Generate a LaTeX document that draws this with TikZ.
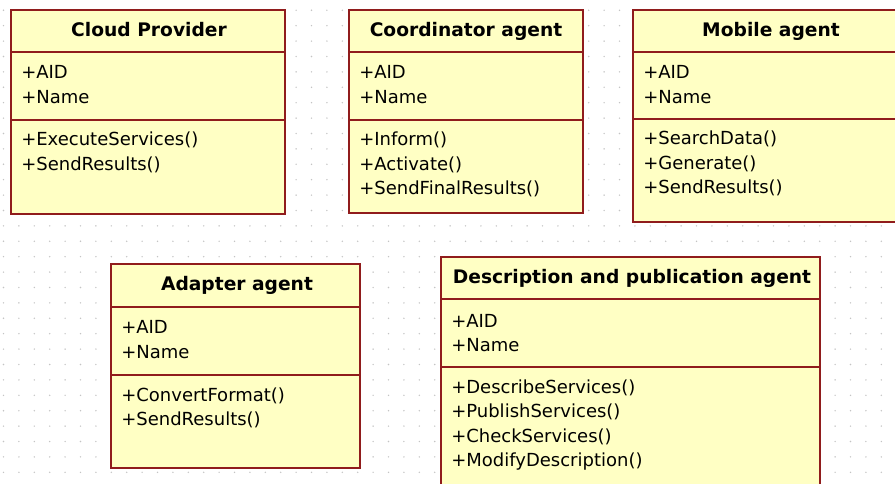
\documentclass[tikz,border=0pt]{standalone}
\usepackage{fontspec}
\setmainfont{DejaVu Sans}
\definecolor{classfill}{HTML}{FFFFC4}
\definecolor{classline}{HTML}{901C1C}
\definecolor{griddot}{HTML}{C4C4C4}

\begin{document}
\begin{tikzpicture}[x=0.75pt, y=-0.75pt,
    classbox/.style={draw=classline, fill=classfill, line width=1.5pt},
    divider/.style={classline, line width=1.5pt},
    classname/.style={font=\fontsize{14}{16}\selectfont\bfseries, inner sep=0pt, anchor=base},
    member/.style={font=\fontsize{13.5}{16}\selectfont, inner sep=0pt, anchor=base west}]
        \useasboundingbox (0,0) rectangle (895,484);
        \clip (0,0) rectangle (895,484);

        % Dotted drawing grid
        \foreach \gx in {0,...,57} {
            \foreach \gy in {0,...,30} {
                \fill[griddot] ({3.5+15.4*\gx}, {10.3+15.4*\gy}) circle (0.8);
            }
        }

        % Cloud Provider
        \draw[classbox] (11,10) rectangle (285,214);
        \draw[divider] (11,52) -- (285,52);
        \draw[divider] (11,120) -- (285,120);
        \node[classname] (cloud) at (149,37) {Cloud Provider};
        \foreach \m [count=\i] in {+AID, +Name}
            \node[member] (cloud-a\i) at (21, {79+24.5*(\i-1)}) {\m};
        \foreach \m [count=\i] in {+ExecuteServices(), +SendResults()}
            \node[member] (cloud-m\i) at (21, {146+24.5*(\i-1)}) {\m};

        % Coordinator agent
        \draw[classbox] (349,10) rectangle (583,213);
        \draw[divider] (349,52) -- (583,52);
        \draw[divider] (349,120) -- (583,120);
        \node[classname] (coord) at (466,37) {Coordinator agent};
        \foreach \m [count=\i] in {+AID, +Name}
            \node[member] (coord-a\i) at (359, {79+24.5*(\i-1)}) {\m};
        \foreach \m [count=\i] in {+Inform(), +Activate(), +SendFinalResults()}
            \node[member] (coord-m\i) at (359, {146+24.5*(\i-1)}) {\m};

        % Mobile agent
        \draw[classbox] (633,10) rectangle (909,222);
        \draw[divider] (633,52) -- (909,52);
        \draw[divider] (633,119) -- (909,119);
        \node[classname] (mobile) at (771,37) {Mobile agent};
        \foreach \m [count=\i] in {+AID, +Name}
            \node[member] (mobile-a\i) at (643, {79+24.5*(\i-1)}) {\m};
        \foreach \m [count=\i] in {+SearchData(), +Generate(), +SendResults()}
            \node[member] (mobile-m\i) at (643, {145+24.5*(\i-1)}) {\m};

        % Adapter agent
        \draw[classbox] (111,264) rectangle (360,468);
        \draw[divider] (111,307) -- (360,307);
        \draw[divider] (111,375) -- (360,375);
        \node[classname] (adapter) at (237,291) {Adapter agent};
        \foreach \m [count=\i] in {+AID, +Name}
            \node[member] (adapter-a\i) at (121, {334+24.5*(\i-1)}) {\m};
        \foreach \m [count=\i] in {+ConvertFormat(), +SendResults()}
            \node[member] (adapter-m\i) at (121, {401+24.5*(\i-1)}) {\m};

        % Description and publication agent
        \draw[classbox] (441,257) rectangle (820,495);
        \draw[divider] (441,299) -- (820,299);
        \draw[divider] (441,367) -- (820,367);
        \node[classname] (descr) at (632,284) {Description and publication agent};
        \foreach \m [count=\i] in {+AID, +Name}
            \node[member] (descr-a\i) at (451, {327+24.5*(\i-1)}) {\m};
        \foreach \m [count=\i] in {+DescribeServices(), +PublishServices(), +CheckServices(), +ModifyDescription()}
            \node[member] (descr-m\i) at (451, {393+24.5*(\i-1)}) {\m};

    \end{tikzpicture}
\end{document}
